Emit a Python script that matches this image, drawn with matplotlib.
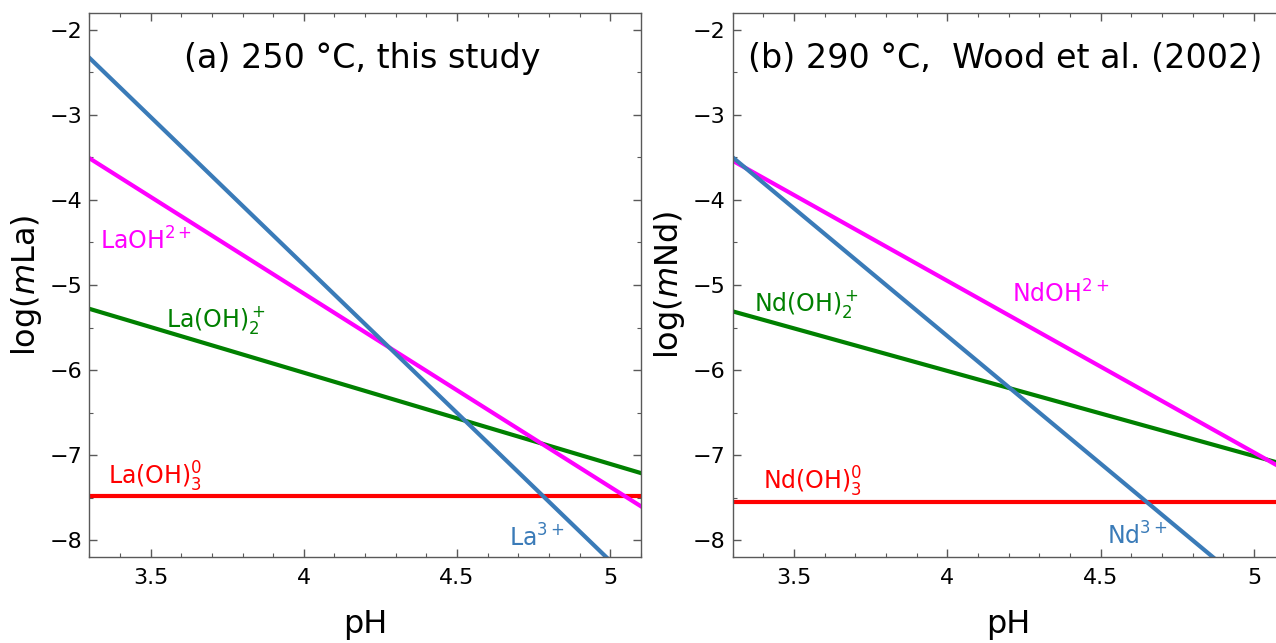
import matplotlib
matplotlib.use("Agg")
import matplotlib.pyplot as plt
from matplotlib.ticker import MultipleLocator

# pH range of the lines (end points of each straight speciation line)
ph_ends = [3.3, 5.1]

# (a) La at 250 °C, log m at pH 3.3 and pH 5.1
la3 = [-2.33, -8.59]
laoh = [-3.51, -7.60]
laoh2 = [-5.28, -7.21]
laoh3 = [-7.48, -7.48]

# (b) Nd at 290 °C (Wood et al., 2002)
nd3 = [-3.50, -8.90]
ndoh = [-3.54, -7.17]
ndoh2 = [-5.31, -7.11]
ndoh3 = [-7.55, -7.55]

c_blue = "#3a7bb8"
c_mag = "#ff00ff"
c_green = "#008000"
c_red = "#ff0000"
lw = 3.0

fig = plt.figure(figsize=(12.76, 6.43), dpi=100)
ax1 = fig.add_axes([0.0700, 0.1333, 0.4322, 0.8470])
ax2 = fig.add_axes([0.5742, 0.1333, 0.4326, 0.8470])


def style(ax, ylab):
    ax.set_xlim(3.3, 5.1)
    ax.set_ylim(-8.2, -1.8)
    ax.xaxis.set_major_locator(MultipleLocator(0.5))
    ax.xaxis.set_minor_locator(MultipleLocator(0.1))
    ax.yaxis.set_major_locator(MultipleLocator(1))
    ax.yaxis.set_minor_locator(MultipleLocator(0.5))
    ax.tick_params(which="both", direction="in", top=True, right=True,
                   color="0.35", labelsize=16)
    ax.tick_params(which="major", length=6, width=1)
    ax.tick_params(axis="x", which="major", pad=8)
    ax.tick_params(axis="y", which="major", pad=5)
    ax.tick_params(which="minor", length=3, width=0.8)
    for s in ax.spines.values():
        s.set_color("0.35")
        s.set_linewidth(1.0)
    ax.xaxis.set_major_formatter(plt.FuncFormatter(lambda v, p: f"{v:g}"))
    ax.set_xlabel("pH", fontsize=23, labelpad=15)
    ax.set_ylabel(ylab, fontsize=23, labelpad=4)


# panel (a)
ax1.plot(ph_ends, laoh3, color=c_red, lw=lw)
ax1.plot(ph_ends, laoh2, color=c_green, lw=lw)
ax1.plot(ph_ends, laoh, color=c_mag, lw=lw)
ax1.plot(ph_ends, la3, color=c_blue, lw=lw)
style(ax1, r"log($m$La)")
ax1.text(3.61, -2.45, "(a) 250 °C, this study", fontsize=24, va="baseline")
ax1.text(3.335, -4.59, r"LaOH$^{2+}$", color=c_mag, fontsize=17, va="baseline")
ax1.text(3.55, -5.49, r"La(OH)$_2^+$", color=c_green, fontsize=17, va="baseline")
ax1.text(3.36, -7.34, r"La(OH)$_3^0$", color=c_red, fontsize=17, va="baseline")
ax1.text(4.67, -8.08, r"La$^{3+}$", color=c_blue, fontsize=17, va="baseline")

# panel (b)
ax2.plot(ph_ends, ndoh3, color=c_red, lw=lw)
ax2.plot(ph_ends, ndoh2, color=c_green, lw=lw)
ax2.plot(ph_ends, ndoh, color=c_mag, lw=lw)
ax2.plot(ph_ends, nd3, color=c_blue, lw=lw)
style(ax2, r"log($m$Nd)")
ax2.text(3.35, -2.45, "(b) 290 °C,  Wood et al. (2002)", fontsize=24, va="baseline")
ax2.text(4.21, -5.21, r"NdOH$^{2+}$", color=c_mag, fontsize=17, va="baseline")
ax2.text(3.37, -5.31, r"Nd(OH)$_2^+$", color=c_green, fontsize=17, va="baseline")
ax2.text(3.40, -7.41, r"Nd(OH)$_3^0$", color=c_red, fontsize=17, va="baseline")
ax2.text(4.52, -8.05, r"Nd$^{3+}$", color=c_blue, fontsize=17, va="baseline")

fig.savefig("out.png", dpi=100)
